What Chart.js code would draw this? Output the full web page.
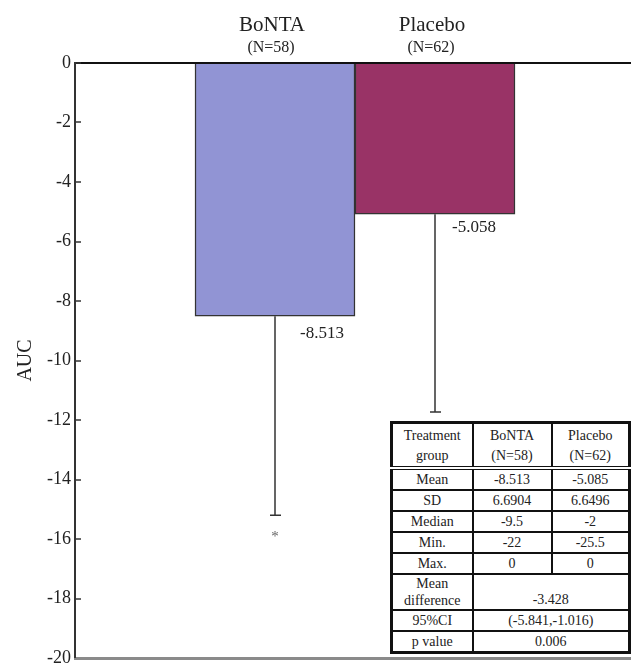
<!DOCTYPE html>
<html>
<head>
<meta charset="utf-8">
<script src="https://cdn.jsdelivr.net/npm/chart.js@4.4.1/dist/chart.umd.min.js"></script>
<style>
  html, body { margin:0; padding:0; background:#fff; overflow:hidden; }
  #wrap { position:relative; width:631px; height:663px; }
  #c { position:absolute; left:0; top:0; }
  #tbl { position:absolute; left:390px; top:421px; width:238px; border-collapse:collapse; table-layout:fixed;
         font:14px "Liberation Serif", "Times New Roman", serif; color:#222; background:#fff; border:3px solid #111; }
  #tbl td { border:2px solid #111; text-align:center; padding:0; line-height:19px; vertical-align:middle; }
  #tbl tr.hdr td { border-bottom:4px double #111; line-height:20px; padding-top:2px; }
  #tbl td.bot { vertical-align:bottom; }
  #tbl td.two { line-height:17px; }
</style>
</head>
<body>
<div id="wrap">
  <canvas id="c" width="631" height="663"></canvas>
  <table id="tbl"></table>
</div>
<script>
// ---- data ----
const categories = ['BoNTA', 'Placebo'];
const groupSizes = ['(N=58)', '(N=62)'];
const means = [-8.513, -5.085];
const sds = [6.6904, 6.6496];
const barLabels = ['-8.513', '-5.058'];
const significance = ['*', ''];
const yTicksMin = -20, yTicksMax = 0, yStep = 2;

// table contents
const tableHeader = [['Treatment', 'group'], ['BoNTA', '(N=58)'], ['Placebo', '(N=62)']];
const statNames = ['Mean', 'SD', 'Median', 'Min.', 'Max.'];
const bontaStats = ['-8.513', '6.6904', '-9.5', '-22', '0'];
const placeboStats = ['-5.085', '6.6496', '-2', '-25.5', '0'];
const meanDiffLabel = ['Mean', 'difference'];
const meanDiff = '-3.428';
const ciLabel = '95%CI';
const ciValue = '(-5.841,-1.016)';
const pLabel = 'p value';
const pValue = '0.006';

// ---- build table ----
(function buildTable() {
  const t = document.getElementById('tbl');
  const colW = [81, 79, 78];
  let html = '<colgroup>' + colW.map(w => '<col style="width:' + w + 'px">').join('') + '</colgroup>';
  html += '<tr class="hdr" style="height:44px">' + tableHeader.map(h => '<td>' + h.join('<br>') + '</td>').join('') + '</tr>';
  const rh = [19, 20, 20, 19, 19];
  statNames.forEach((n, i) => {
    html += '<tr style="height:' + rh[i] + 'px"><td>' + n + '</td><td>' + bontaStats[i] + '</td><td>' + placeboStats[i] + '</td></tr>';
  });
  html += '<tr style="height:34px"><td class="two">' + meanDiffLabel.join('<br>') + '</td><td colspan="2" class="bot">' + meanDiff + '</td></tr>';
  html += '<tr style="height:17px"><td>' + ciLabel + '</td><td colspan="2">' + ciValue + '</td></tr>';
  html += '<tr style="height:18px"><td>' + pLabel + '</td><td colspan="2">' + pValue + '</td></tr>';
  t.innerHTML = html;
})();

const serif = '"Liberation Serif", "Times New Roman", serif';
Chart.defaults.font.family = serif;
Chart.defaults.color = '#222';
const fontStr = size => Chart.helpers.toFont({ size: size, family: serif }).string;

const annotate = {
  id: 'annotate',
  afterDatasetsDraw(chart, args, opts) {
    const ctx = chart.ctx;
    const xs = chart.scales.x, ys = chart.scales.y;
    ctx.save();
    categories.forEach((cat, i) => {
      const cx = xs.getPixelForValue(i);
      const yMean = ys.getPixelForValue(means[i]);
      const yEnd = ys.getPixelForValue(means[i] - sds[i]);
      // error bar (one-sided, downward)
      ctx.strokeStyle = '#333';
      ctx.lineWidth = 1.5;
      ctx.beginPath();
      ctx.moveTo(cx, yMean);
      ctx.lineTo(cx, yEnd);
      ctx.moveTo(cx - 5, yEnd);
      ctx.lineTo(cx + 6, yEnd);
      ctx.stroke();
      // value label
      ctx.fillStyle = '#222';
      ctx.font = fontStr(17);
      ctx.textAlign = 'left';
      ctx.textBaseline = 'middle';
      ctx.fillText(barLabels[i], cx + opts.labelDx[i], yMean + opts.labelDy[i]);
      // significance marker
      if (significance[i]) {
        ctx.fillStyle = '#666';
        ctx.font = fontStr(15);
        ctx.textAlign = 'center';
        ctx.textBaseline = 'alphabetic';
        ctx.fillText(significance[i], cx, yEnd + 26);
      }
      // group headers above the plot
      const top = chart.chartArea.top;
      ctx.fillStyle = '#222';
      ctx.textAlign = 'center';
      ctx.textBaseline = 'middle';
      ctx.font = fontStr(21);
      ctx.fillText(cat, cx - 3, top - 38);
      ctx.font = fontStr(16);
      ctx.fillText(groupSizes[i], cx - 4, top - 15);
    });
    ctx.restore();
  }
};

new Chart(document.getElementById('c'), {
  type: 'bar',
  data: {
    datasets: [{
      data: means.map((v, i) => ({ x: i, y: v })),
      backgroundColor: ['#9194d4', '#993366'],
      borderColor: '#333',
      borderWidth: 1.5,
      barPercentage: 1,
      categoryPercentage: 1
    }]
  },
  options: {
    responsive: false,
    devicePixelRatio: 1,
    animation: false,
    layout: { padding: { top: 63, right: 0, bottom: 5, left: 0 } },
    plugins: {
      legend: { display: false },
      tooltip: { enabled: false },
      annotate: { labelDx: [25, 17], labelDy: [17, 13] }
    },
    scales: {
      x: {
        type: 'linear',
        offset: false,
        min: -1.25,
        max: 2.225,
        afterBuildTicks: s => { s.ticks = categories.map((c, i) => ({ value: i })); },
        afterFit: s => { s.height = 0; },
        ticks: { display: false },
        grid: { display: false, offset: false },
        border: { display: true, color: '#8a8a8a', width: 3 }
      },
      y: {
        min: yTicksMin,
        max: yTicksMax,
        afterFit: s => { s.width = 75; s.paddingTop = 0; s.paddingBottom = 0; },
        ticks: { stepSize: yStep, padding: 10, color: '#222', font: { size: 18, family: serif } },
        grid: {
          drawOnChartArea: true,
          color: c => (c.tick && c.tick.value === 0 ? '#111' : 'rgba(0,0,0,0)'),
          lineWidth: c => (c.tick && c.tick.value === 0 ? 2 : 0),
          tickLength: -6,
          tickColor: '#333',
          tickWidth: 1.5
        },
        border: { display: true, color: '#333', width: 2 },
        title: { display: true, text: 'AUC', font: { size: 20, family: serif }, color: '#222', padding: { top: 14, bottom: 0 } }
      }
    }
  },
  plugins: [annotate]
});
</script>
</body>
</html>
